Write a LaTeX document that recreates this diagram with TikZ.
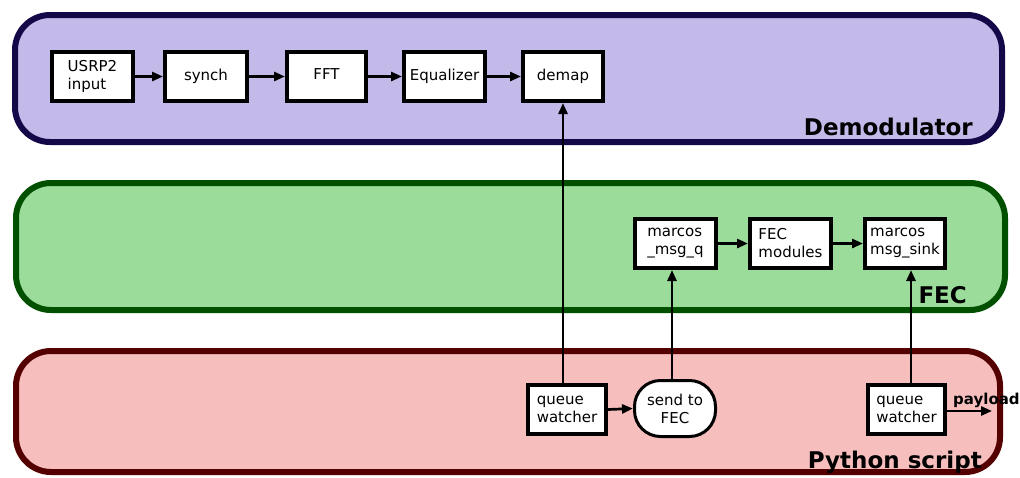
\documentclass[tikz,border=0pt]{standalone}
\usepackage{fontspec}
\setmainfont{DejaVu Sans}
\usetikzlibrary{arrows.meta}
\definecolor{demfill}{RGB}{195,186,234}
\definecolor{demline}{RGB}{20,8,72}
\definecolor{fecfill}{RGB}{155,220,155}
\definecolor{fecline}{RGB}{0,80,0}
\definecolor{pyfill}{RGB}{247,190,190}
\definecolor{pyline}{RGB}{85,0,0}
\begin{document}
\begin{tikzpicture}[x=1pt,y=-1pt,
  band/.style={line width=6pt, rounded corners=35pt},
  blk/.style={draw=black, fill=white, line width=4pt, minimum width=#1,
    minimum height=49pt, inner sep=2pt, align=left,
    font=\fontsize{15}{18}\selectfont},
  blk/.default=81pt,
  bandlabel/.style={anchor=base east, inner sep=0pt,
    font=\bfseries\fontsize{23}{26}\selectfont},
  arr/.style={line width=2.7pt, -{Triangle[length=11pt,width=9pt]}}
]
\useasboundingbox (0,0) rectangle (1020,477);
% bands
\draw[band, fill=demfill, draw=demline] (15,15) rectangle (1002,142);
\draw[band, fill=fecfill, draw=fecline] (16,183) rectangle (1005,310);
\draw[band, fill=pyfill, draw=pyline] (16,351) rectangle (1000,472);
\node[bandlabel] (ldem) at (973,135) {Demodulator};
\node[bandlabel] (lfec) at (967,303) {FEC};
\node[bandlabel] (lpy) at (982,468) {Python script};
% demodulator blocks
\node[blk] (usrp) at (92.5,76.5) {USRP2\\input};
\node[blk=82pt] (synch) at (206,76.5) {\raisebox{4pt}{synch}};
\node[blk=79pt] (fft) at (326.5,76.5) {\raisebox{4pt}{FFT}};
\node[blk] (eq) at (444.5,76.5) {\raisebox{2pt}{Equalizer}};
\node[blk=80pt] (demap) at (563,76.5) {\raisebox{2pt}{demap}};
% FEC blocks
\node[blk] (mq) at (675.5,243.5) {marcos\\\_msg\_q};
\node[blk] (fecm) at (790.5,243.5) {FEC\\modules};
\node[blk=80pt] (sink) at (905,243.5) {marcos\\msg\_sink};
% python blocks
\node[blk=78pt] (qw1) at (567,409.5) {queue\\watcher};
\node[draw=black, fill=white, line width=3pt, minimum width=81pt,
  minimum height=56pt, rounded corners=26pt, inner sep=2pt, align=center,
  font=\fontsize{15}{18}\selectfont] (send) at (675,408.5) {send to\\FEC};
\node[blk=77pt] (qw2) at (906.5,409.5) {queue\\watcher};
% connectors
\draw[arr] (usrp.east) -- (synch.west);
\draw[arr] (synch.east) -- (fft.west);
\draw[arr] (fft.east) -- (eq.west);
\draw[arr] (eq.east) -- (demap.west);
\draw[arr] (mq.east) -- (fecm.west);
\draw[arr] (fecm.east) -- (sink.west);
\draw[arr] (qw1.north -| demap.south) -- (demap.south);
\draw[arr] ([xshift=-3pt]send.north) -- ([xshift=-3pt]send.north |- mq.south);
\draw[arr] ([xshift=4.5pt]qw2.north) -- ([xshift=4.5pt]qw2.north |- sink.south);
\draw[arr] (qw1.east) -- (send.west);
\coordinate (pend) at (992,411);
\draw[arr] (qw2.east |- pend) -- (pend);
\node[anchor=base west, inner sep=0pt, font=\bfseries\fontsize{15}{17}\selectfont] (payload) at (953,404) {payload};
\end{tikzpicture}
\end{document}
